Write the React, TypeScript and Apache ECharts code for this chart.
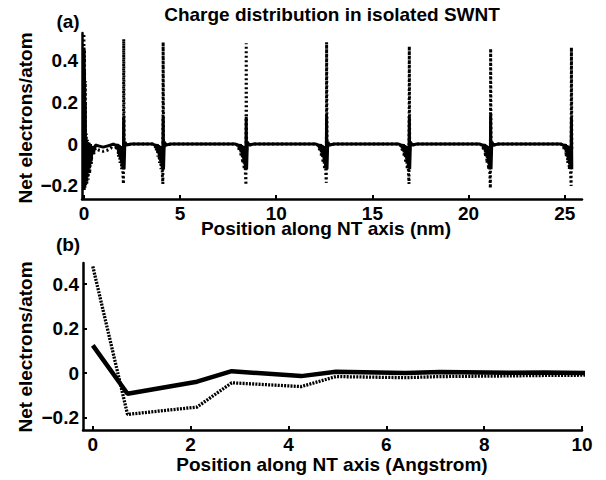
import React, { useEffect, useRef } from "react";
import * as echarts from "echarts";

// ---------- Panel (a): charge along the whole tube (nm) ----------
const xTicksA = [0, 5, 10, 15, 20, 25];
const yTicksA = [-0.2, 0, 0.2, 0.4];

// tube end at x = 0 (read point by point)
const endX = [0, 0.015, 0.03, 0.05, 0.07, 0.09, 0.12, 0.15, 0.18, 0.22, 0.26, 0.3, 0.34, 0.38, 0.43, 0.5, 0.6, 0.8, 1.0, 1.2, 1.4];
const endSolid = [0.46, -0.2, 0.35, -0.19, 0.2, -0.18, 0.02, -0.16, 0.01, -0.14, 0.005, -0.11, 0, -0.08, -0.01, -0.04, -0.005, -0.01, -0.015, -0.01, -0.005];
const endDotted = [0.52, -0.22, 0.45, -0.21, 0.3, -0.2, 0.05, -0.19, 0.02, -0.17, 0.01, -0.14, 0, -0.1, -0.02, -0.05, -0.02, -0.03, -0.035, -0.03, -0.02];

// junctions along the tube
const junctionCenters = [2.07, 4.12, 8.44, 12.62, 16.92, 21.15, 25.35];
const solidPeaks = [0.13, 0.13, 0.13, 0.135, 0.13, 0.14, 0.125];
const dottedPeaks = [0.5, 0.485, 0.48, 0.485, 0.465, 0.455, 0.46];
const dottedDips = [-0.19, -0.19, -0.195, -0.185, -0.19, -0.21, -0.2];
const dataEnd = 25.4;

// shape around each junction (offsets in nm from the junction)
const leadOffsets = [-0.55, -0.42, -0.36, -0.31, -0.27, -0.23, -0.19, -0.15, -0.11, -0.07, -0.04];
const leadSolid = [0, -0.005, -0.02, 0, -0.04, -0.005, -0.06, -0.01, -0.085, -0.02, -0.11];
const leadDotted = [0, -0.01, -0.03, 0, -0.06, -0.01, -0.09, -0.02, -0.12, -0.04, -0.15];
const dipOffset = -0.015;
const dipSolid = -0.03;
const trailOffsets = [0.02, 0.06, 0.15, 0.4];
const trailSolid = [-0.12, 0.01, -0.005, 0];
const trailDotted = [-0.03, 0, -0.005, 0];

// ---------- Panel (b): first atoms (Angstrom) ----------
const xTicksB = [0, 2, 4, 6, 8, 10];
const yTicksB = [-0.2, 0, 0.2, 0.4];
const posB = [0, 0.71, 2.13, 2.84, 4.26, 4.97, 6.39, 7.1, 8.52, 9.23, 10.65];
const solidB = [0.125, -0.092, -0.038, 0.009, -0.013, 0.007, 0.001, 0.006, 0.002, 0.003, 0.0];
const dottedB = [0.48, -0.185, -0.152, -0.043, -0.06, -0.015, -0.02, -0.015, -0.012, -0.01, -0.008];

const FONT = "'Liberation Sans', Arial, Helvetica, sans-serif";
const FS = 19;

function buildA(kind: "solid" | "dotted"): number[][] {
  const pts: number[][] = [];
  const endV = kind === "solid" ? endSolid : endDotted;
  endX.forEach((x, i) => pts.push([x, endV[i]]));
  junctionCenters.forEach((c, j) => {
    const lead = kind === "solid" ? leadSolid : leadDotted;
    leadOffsets.forEach((o, i) => pts.push([c + o, lead[i]]));
    pts.push([c + dipOffset, kind === "solid" ? dipSolid : dottedDips[j]]);
    pts.push([c, kind === "solid" ? solidPeaks[j] : dottedPeaks[j]]);
    const trail = kind === "solid" ? trailSolid : trailDotted;
    trailOffsets.forEach((o, i) => {
      if (c + o <= dataEnd) pts.push([c + o, trail[i]]);
    });
  });
  return pts;
}

function fmtY(v: number): string {
  if (Math.abs(v) < 1e-9) return "0";
  return (Math.round(v * 10) / 10).toString().replace("-", "\u2212");
}

const axisCommon = {
  axisLine: { show: true, onZero: false, lineStyle: { color: "#000", width: 2.5 } },
  axisTick: { show: true, inside: true, length: 4, lineStyle: { color: "#000", width: 2 } },
  splitLine: { show: false },
};

const labelStyle = { color: "#000", fontSize: FS, fontWeight: "bold" as const, fontFamily: FONT };

function txt() {
  return {
    fill: "#000",
    fontSize: FS,
    fontWeight: "bold",
    fontFamily: FONT,
    align: "center",
    verticalAlign: "middle",
  };
}

export default function App() {
  const ref = useRef<HTMLDivElement>(null);
  useEffect(() => {
    if (!ref.current) return;
    const chart = echarts.init(ref.current, null, { renderer: "svg" });
    const option = {
      animation: false,
      backgroundColor: "#fff",
      grid: [
        { left: 82, top: 33, width: 500, height: 166 },
        { left: 83, top: 263, width: 499, height: 167 },
      ],
      xAxis: [
        {
          type: "value", gridIndex: 0, min: -0.1, max: 25.9,
          ...axisCommon,
          axisTick: { ...axisCommon.axisTick, customValues: xTicksA },
          axisLabel: { ...labelStyle, margin: 5, customValues: xTicksA, formatter: (v: number) => String(v) },
        },
        {
          type: "value", gridIndex: 1, min: -0.2, max: 10,
          ...axisCommon,
          axisTick: { ...axisCommon.axisTick, customValues: xTicksB },
          axisLabel: { ...labelStyle, margin: 5, customValues: xTicksB, formatter: (v: number) => String(v) },
        },
      ],
      yAxis: [
        {
          type: "value", gridIndex: 0, min: -0.262, max: 0.529,
          ...axisCommon,
          axisTick: { ...axisCommon.axisTick, customValues: yTicksA },
          axisLabel: { ...labelStyle, margin: 4, customValues: yTicksA, formatter: fmtY },
        },
        {
          type: "value", gridIndex: 1, min: -0.255, max: 0.495,
          ...axisCommon,
          axisTick: { ...axisCommon.axisTick, customValues: yTicksB },
          axisLabel: { ...labelStyle, margin: 4, customValues: yTicksB, formatter: fmtY },
        },
      ],
      series: [
        {
          name: "dotted (a)", type: "line", xAxisIndex: 0, yAxisIndex: 0,
          data: buildA("dotted"), showSymbol: false, symbol: "none",
          lineStyle: { color: "#000", width: 3, type: [2, 2.5] },
        },
        {
          name: "solid (a)", type: "line", xAxisIndex: 0, yAxisIndex: 0,
          data: buildA("solid"), showSymbol: false, symbol: "none",
          lineStyle: { color: "#000", width: 3 },
        },
        {
          name: "dotted (b)", type: "line", xAxisIndex: 1, yAxisIndex: 1,
          data: posB.map((x, i) => [x, dottedB[i]]), showSymbol: false, symbol: "none", clip: true,
          lineStyle: { color: "#000", width: 3.3, type: [2, 1.2] },
        },
        {
          name: "solid (b)", type: "line", xAxisIndex: 1, yAxisIndex: 1,
          data: posB.map((x, i) => [x, solidB[i]]), showSymbol: false, symbol: "none", clip: true,
          lineStyle: { color: "#000", width: 4.5 },
        },
      ],
      graphic: [
        { type: "text", x: 68, y: 21, style: { text: "(a)", ...txt() } },
        { type: "text", x: 332, y: 14, style: { text: "Charge distribution in isolated SWNT", ...txt() } },
        { type: "text", x: 25, y: 118, rotation: Math.PI / 2, style: { text: "Net electrons/atom", ...txt() } },
        { type: "text", x: 326, y: 228, style: { text: "Position along NT axis (nm)", ...txt() } },
        { type: "text", x: 68, y: 244, style: { text: "(b)", ...txt() } },
        { type: "text", x: 25, y: 347, rotation: Math.PI / 2, style: { text: "Net electrons/atom", ...txt() } },
        { type: "text", x: 332, y: 464, style: { text: "Position along NT axis (Angstrom)", ...txt() } },
      ],
    };
    chart.setOption(option as any);
    return () => chart.dispose();
  }, []);
  return (
    <div
      ref={ref}
      style={{ position: "fixed", left: 0, top: 0, width: 606, height: 480, background: "#fff" }}
    />
  );
}
